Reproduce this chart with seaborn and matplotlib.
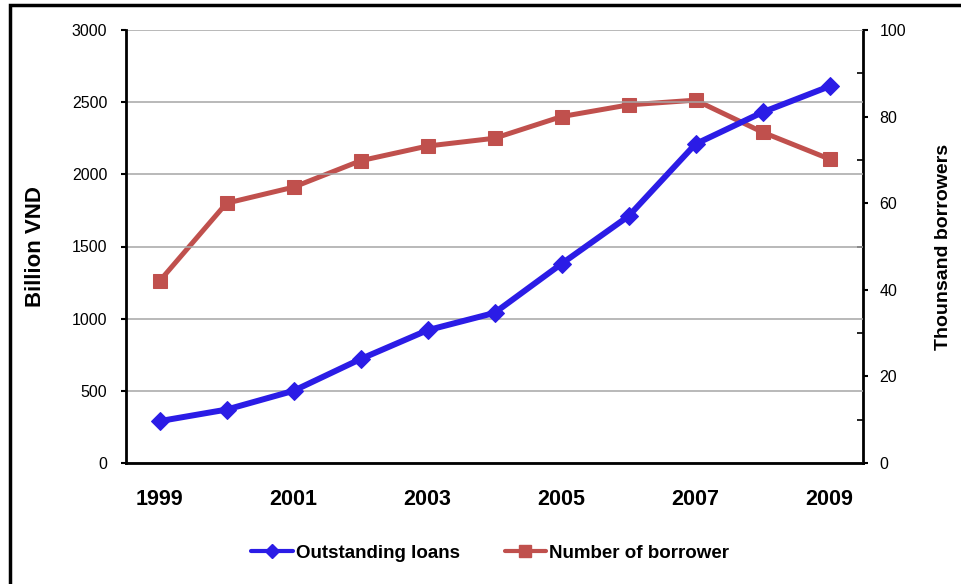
import matplotlib
matplotlib.use("Agg")
import matplotlib.pyplot as plt
import seaborn as sns
import pandas as pd
import numpy as np
from matplotlib.patches import Rectangle
from matplotlib.lines import Line2D

years = [1999, 2000, 2001, 2002, 2003, 2004, 2005, 2006, 2007, 2008, 2009]
outstanding_loans = [290, 370, 500, 720, 920, 1040, 1380, 1710, 2210, 2430, 2610]
borrowers = [42, 60, 63.7, 69.8, 73.2, 75, 80, 82.7, 83.8, 76.4, 70.2]
year_labels = ["1999", "2001", "2003", "2005", "2007", "2009"]
left_ticks = [0, 500, 1000, 1500, 2000, 2500, 3000]
right_ticks = [0, 20, 40, 60, 80, 100]

df = pd.DataFrame({"year": years, "loans": outstanding_loans, "borrowers": borrowers})

sns.set_style("white")
plt.rcParams["font.family"] = ["Liberation Sans", "DejaVu Sans"]
plt.rcParams["text.color"] = "black"
plt.rcParams["axes.labelcolor"] = "black"
plt.rcParams["xtick.color"] = "black"
plt.rcParams["ytick.color"] = "black"

BLUE = "#2B1CE6"
RED = "#C0504D"

fig = plt.figure(figsize=(9.61, 5.84), dpi=100)
ax = fig.add_axes([126 / 961, 121 / 584, 737 / 961, 433 / 584])
ax2 = ax.twinx()

sns.lineplot(data=df, x="year", y="loans", ax=ax, color=BLUE, linewidth=4.3,
             marker="D", markersize=9, markeredgecolor=BLUE, zorder=3)
sns.lineplot(data=df, x="year", y="borrowers", ax=ax2, color=RED, linewidth=3.6,
             marker="s", markersize=9.5, markeredgecolor=RED, zorder=3)

ax.set_zorder(ax2.get_zorder() + 1)
ax.patch.set_visible(False)

# left axis
ax.set_ylim(0, 3000)
ax.set_yticks(left_ticks)
ax.set_yticklabels([str(t) for t in left_ticks], fontsize=11.5)
ax.yaxis.grid(True, color="#A6A6A6", linewidth=1.1)
ax.set_axisbelow(True)
ax.set_ylabel("Billion VND", fontsize=16, fontweight="bold")
ax.yaxis.set_label_coords((46 - 126) / 737, 0.5)

# x axis (category style)
ax.set_xlim(years[0] - 0.5, years[-1] + 0.5)
bounds = [y - 0.5 for y in years] + [years[-1] + 0.5]
ax.set_xticks(bounds)
ax.set_xticklabels([""] * len(bounds))
ax.set_xticks([int(s) for s in year_labels], minor=True)
ax.set_xticklabels(year_labels, minor=True, fontsize=15.5, fontweight="bold")
ax.tick_params(axis="x", which="major", direction="out", length=4.5, width=1.5, color="black")
ax.tick_params(axis="x", which="minor", length=0, pad=19)
ax.tick_params(axis="y", which="major", direction="out", length=3.5, width=1.5, color="black", pad=10)
ax.set_xlabel("")

# right axis
ax2.set_ylim(0, 100)
ax2.set_yticks(right_ticks)
ax2.set_yticklabels([str(t) for t in right_ticks], fontsize=11.5)
ax2.set_yticks([10, 30, 50, 70, 90], minor=True)
ax2.tick_params(axis="y", which="major", direction="out", length=3.5, width=1.5, color="black", pad=8.5)
ax2.tick_params(axis="y", which="minor", direction="in", length=4, width=1.2, color="black", right=True)
ax2.set_ylabel("Thounsand borrowers", fontsize=14, fontweight="bold")
ax2.yaxis.set_label_coords((935 - 126) / 737, 0.5)
ax2.grid(False)

for a in (ax, ax2):
    a.spines["top"].set_visible(False)
    for s in ("left", "bottom", "right"):
        a.spines[s].set_color("black")
        a.spines[s].set_linewidth(2)

ax2.spines["left"].set_visible(False)
ax2.spines["bottom"].set_visible(False)
ax.spines["right"].set_visible(False)

# legend
h1 = Line2D([], [], color=BLUE, linewidth=3, marker="D", markersize=7, markeredgecolor=BLUE)
h2 = Line2D([], [], color=RED, linewidth=3, marker="s", markersize=8, markeredgecolor=RED)
leg = fig.legend([h1, h2], ["Outstanding loans", "Number of borrower"],
                 loc="center", bbox_to_anchor=(490 / 961, 31 / 584), ncol=2, frameon=False,
                 prop={"size": 13.5, "weight": "bold"}, handlelength=2.2, handletextpad=0.15,
                 columnspacing=2.4)

# figure frame (left and top edges)
fig.patches.append(Rectangle((10 / 961, -0.1), 1.2, (584 - 5) / 584 + 0.1,
                             transform=fig.transFigure, fill=False,
                             edgecolor="black", linewidth=2.5, zorder=10))

fig.savefig("out.png", dpi=100)
